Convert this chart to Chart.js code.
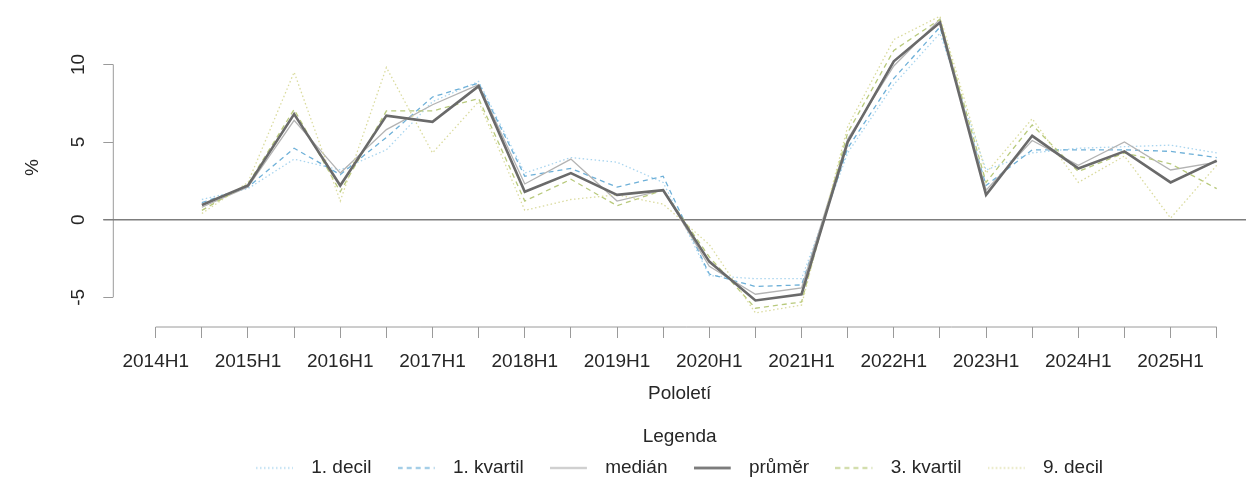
<!DOCTYPE html>
<html>
<head>
<meta charset="utf-8">
<script src="https://cdn.jsdelivr.net/npm/chart.js@4/dist/chart.umd.min.js"></script>
<style>
  html, body { margin: 0; padding: 0; background: #ffffff; overflow: hidden; }
  #wrap { width: 1246px; height: 478px; position: relative; }
</style>
</head>
<body>
<div id="wrap"><canvas id="c" width="1246" height="478"></canvas></div>
<script>
// ---- data ----
const periods = ['2014H1','2014H2','2015H1','2015H2','2016H1','2016H2','2017H1','2017H2',
                 '2018H1','2018H2','2019H1','2019H2','2020H1','2020H2','2021H1','2021H2',
                 '2022H1','2022H2','2023H1','2023H2','2024H1','2024H2','2025H1','2025H2'];
const seriesNames = ['1. decil', '1. kvartil', 'medián', 'průměr', '3. kvartil', '9. decil'];
const decil1   = [null, 1.3, 2.0, 3.9, 3.2, 4.5, 7.6, 8.9, 3.0, 4.0, 3.7, 2.4, -3.6, -3.8, -3.8, 4.3, 8.7, 12.0, 3.2, 4.3, 4.6, 4.7, 4.8, 4.3];
const kvartil1 = [null, 1.1, 2.1, 4.6, 2.9, 5.3, 7.9, 8.8, 2.8, 3.3, 2.1, 2.8, -3.5, -4.3, -4.2, 4.6, 9.1, 12.4, 2.2, 4.5, 4.5, 4.5, 4.4, 4.0];
const median   = [null, 0.8, 2.1, 6.4, 3.0, 5.8, 7.4, 8.7, 2.3, 3.9, 1.2, 1.9, -3.0, -4.8, -4.4, 5.2, 9.9, 12.9, 1.9, 5.1, 3.5, 5.0, 3.2, 3.7];
const prumer   = [null, 0.95, 2.2, 6.8, 2.2, 6.7, 6.3, 8.6, 1.8, 3.0, 1.6, 1.9, -2.7, -5.2, -4.8, 5.0, 10.2, 12.7, 1.6, 5.4, 3.3, 4.4, 2.4, 3.8];
const kvartil3 = [null, 0.6, 2.3, 7.1, 1.8, 7.0, 7.0, 7.8, 1.2, 2.6, 0.9, 1.9, -2.4, -5.7, -5.3, 5.6, 10.9, 12.9, 2.4, 6.1, 3.1, 4.3, 3.6, 2.0];
const decil9   = [null, 0.4, 2.4, 9.5, 1.2, 9.8, 4.3, 7.6, 0.6, 1.3, 1.6, 1.0, -1.6, -6.0, -5.5, 6.0, 11.6, 13.1, 3.0, 6.5, 2.4, 4.1, 0.1, 3.5];
const yTickValues = [-5, 0, 5, 10];
const xTitle = 'Pololetí';
const yTitle = '%';
const legendTitle = 'Legenda';

// ---- styles ----
const styles = [
  { color: '#a9d5ef', dash: [1.5, 2.5], width: 1.3 },
  { color: '#6eb0d8', dash: [5, 4],     width: 1.3 },
  { color: '#b3b3b3', dash: [],         width: 1.3 },
  { color: '#6a6a6a', dash: [],         width: 2.6 },
  { color: '#b8c97c', dash: [5, 4],     width: 1.3 },
  { color: '#dadb9e', dash: [1.5, 2.5], width: 1.3 },
];
const allSeries = [decil1, kvartil1, median, prumer, kvartil3, decil9];
const drawOrder = [5, 4, 3, 0, 2, 1];

function legendSample(st) {
  const cv = document.createElement('canvas');
  cv.width = 46; cv.height = 5;
  const g = cv.getContext('2d');
  g.strokeStyle = st.color;
  g.lineWidth = Math.max(st.width, 1.5);
  g.setLineDash(st.dash);
  g.beginPath(); g.moveTo(0, 2.5); g.lineTo(37, 2.5); g.stroke();
  return cv;
}

const datasets = allSeries.map((arr, i) => ({
  label: seriesNames[i],
  data: arr.map((v, k) => ({ x: k, y: v })),
  borderColor: styles[i].color,
  backgroundColor: styles[i].color,
  borderWidth: styles[i].width,
  borderDash: styles[i].dash,
  pointRadius: 0,
  pointStyle: legendSample(styles[i]),
  tension: 0,
  fill: false,
  order: drawOrder[i],
}));

const FONT = "'Liberation Sans', Arial, sans-serif";
const TXT = '#262626';
const AXIS = '#9a9a9a';

const axesPlugin = {
  id: 'rAxes',
  beforeDatasetsDraw(chart) {
    const { ctx, chartArea, scales: { x, y } } = chart;
    ctx.save();
    ctx.lineWidth = 1;
    ctx.strokeStyle = AXIS;
    // y axis line between outer ticks
    ctx.beginPath();
    ctx.moveTo(chartArea.left, y.getPixelForValue(yTickValues[0]));
    ctx.lineTo(chartArea.left, y.getPixelForValue(yTickValues[yTickValues.length - 1]));
    ctx.stroke();
    // x axis line between outer ticks
    ctx.beginPath();
    ctx.moveTo(x.getPixelForValue(0), chartArea.bottom);
    ctx.lineTo(x.getPixelForValue(periods.length - 1), chartArea.bottom);
    ctx.stroke();
    // zero reference line
    ctx.strokeStyle = '#7d7d7d';
    ctx.lineWidth = 1.5;
    const y0 = y.getPixelForValue(0);
    ctx.beginPath();
    ctx.moveTo(chartArea.left - 10, y0);
    ctx.lineTo(chartArea.right, y0);
    ctx.stroke();
    ctx.restore();
  }
};

new Chart(document.getElementById('c'), {
  type: 'line',
  data: { datasets },
  plugins: [axesPlugin],
  options: {
    responsive: false,
    animation: false,
    events: [],
    layout: { padding: { top: 8, left: 0, right: 0, bottom: 0 } },
    scales: {
      x: {
        type: 'linear',
        min: -0.92,
        max: 23.635,
        border: { display: false },
        grid: { display: true, drawOnChartArea: false, drawTicks: true, tickLength: 11, color: AXIS, lineWidth: 1 },
        afterBuildTicks(scale) { scale.ticks = periods.map((p, i) => ({ value: i })); },
        afterFit(scale) { scale.height = 100.5; scale.paddingLeft = 0; scale.paddingRight = 0; },
        ticks: {
          autoSkip: false, minRotation: 0, maxRotation: 0, padding: 12.6,
          color: TXT, font: { family: FONT, size: 19 },
          callback(v) { return (Number.isInteger(v) && v % 2 === 0) ? periods[v] : ''; }
        },
        title: { display: true, text: xTitle, color: TXT, font: { family: FONT, size: 19 }, padding: { top: 0, bottom: 22.1 } }
      },
      y: {
        type: 'linear',
        min: -6.91,
        max: 13.63,
        border: { display: false },
        grid: { display: true, drawOnChartArea: false, drawTicks: true, tickLength: 10, color: AXIS, lineWidth: 1 },
        afterBuildTicks(scale) { scale.ticks = yTickValues.map(v => ({ value: v })); },
        afterFit(scale) { scale.width = 113.3; scale.paddingTop = 0; scale.paddingBottom = 0; },
        ticks: {
          autoSkip: false, minRotation: 90, maxRotation: 90, crossAlign: 'center', padding: 13.7,
          color: TXT, font: { family: FONT, size: 19 },
          callback(v) { return String(v); }
        },
        title: { display: true, text: yTitle, color: TXT, font: { family: FONT, size: 19 }, padding: { top: 21.6, bottom: 0 } }
      }
    },
    plugins: {
      tooltip: { enabled: false },
      legend: {
        position: 'bottom',
        fullSize: false,
        maxHeight: 50.5,
        title: { display: true, text: legendTitle, color: TXT, font: { family: FONT, size: 19 }, padding: { top: 0, bottom: -18.3 } },
        labels: {
          usePointStyle: true,
          pointStyleWidth: 45.5,
          padding: 26.5,
          color: TXT,
          font: { family: FONT, size: 19 },
          sort: (a, b) => a.datasetIndex - b.datasetIndex
        }
      }
    }
  }
});
</script>
</body>
</html>
